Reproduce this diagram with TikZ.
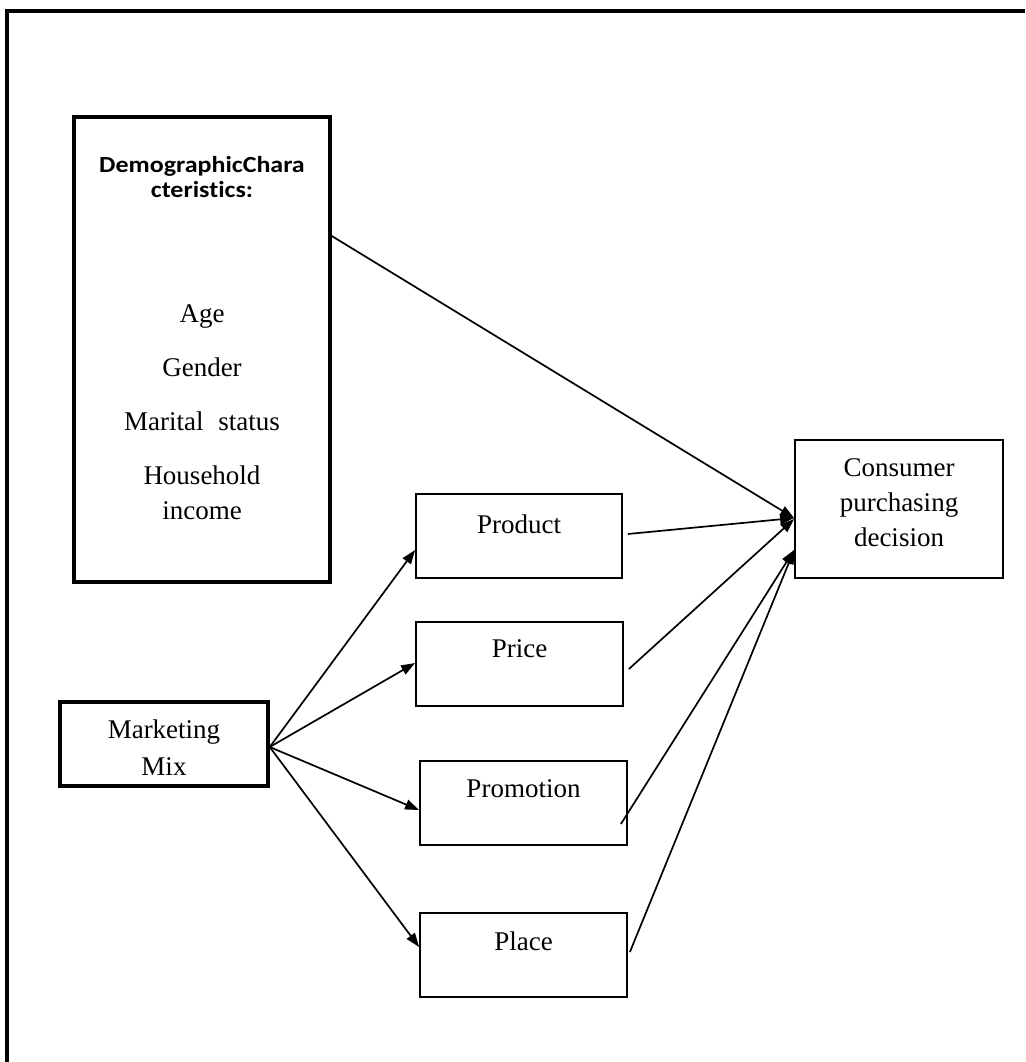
\documentclass[tikz,border=0pt]{standalone}
\usepackage{fontspec}
\setmainfont{Liberation Serif}
\newfontfamily\titlefont[FakeStretch=1.13,Ligatures={NoCommon}]{Carlito}
\usetikzlibrary{arrows.meta}
\newcommand{\mybox}[4]{\parbox[c][#2][t]{#1}{\centering\rule{0pt}{#3}#4}}
\begin{document}
\begin{tikzpicture}[x=1pt,y=-1pt,
  thinbox/.style={draw, line width=1.8pt, inner sep=0pt, rectangle, font=\fontsize{27}{36}\selectfont},
  thickbox/.style={draw, line width=3.5pt, inner sep=0pt, rectangle, font=\fontsize{27}{37}\selectfont},
  arr/.style={line width=1.7pt, -{Triangle[length=14pt,width=10pt]}}]
\useasboundingbox (0,0) rectangle (1025,1062);
% outer frame
\draw[line width=3.5pt] (7,1062) -- (7,11) -- (1025,11);

\node[thickbox] (demo) at (202,349.5) {\parbox[c][465pt][t]{256pt}{\centering
  {\titlefont\bfseries\fontsize{23}{25}\selectfont\rule{0pt}{55pt}DemographicChara\\cteristics:\par}
  \fontsize{27}{54}\selectfont
  \vspace{71pt}
  Age\\Gender\\Marital\hspace{0.3em} status\\Household\\[-19pt]income\par}};

\node[thickbox] (mm) at (164,744) {\mybox{208pt}{84pt}{36pt}{Marketing\\Mix}};

\node[thinbox] (product) at (519,536) {\mybox{206pt}{84pt}{39pt}{Product}};
\node[thinbox] (price) at (519.5,664) {\mybox{207pt}{84pt}{35pt}{Price}};
\node[thinbox] (promo) at (523.5,803) {\mybox{207pt}{84pt}{36pt}{Promotion}};
\node[thinbox] (place) at (523.5,955) {\mybox{207pt}{84pt}{37pt}{Place}};

\node[thinbox, font=\fontsize{27}{35}\selectfont] (cons) at (899,509) {\mybox{208pt}{138pt}{36pt}{Consumer\\purchasing\\decision}};

% demographic to consumer
\draw[arr] ([yshift=113.5pt]demo.east) -- ([yshift=-9pt]cons.west);
% marketing mix to 4Ps
\draw[arr] ([yshift=-3pt]mm.east) -- ([yshift=-14pt]product.west);
\draw[arr] ([yshift=-3pt]mm.east) -- ([yshift=1pt]price.west);
\draw[arr] ([yshift=-3pt]mm.east) -- ([yshift=-7pt]promo.west);
\draw[arr] ([yshift=-3pt]mm.east) -- ([yshift=8pt]place.west);
% 4Ps to consumer
\draw[arr] ([xshift=5pt,yshift=2pt]product.east) -- ([yshift=-9pt]cons.west);
\draw[arr] ([xshift=5pt,yshift=-5pt]price.east) -- ([yshift=-10pt]cons.west);
\draw[arr] ([xshift=-7pt,yshift=-21pt]promo.east) -- ([yshift=-41pt]cons.west);
\draw[arr] ([xshift=2pt,yshift=3pt]place.east) -- ([yshift=-41pt]cons.west);
\end{tikzpicture}
\end{document}
